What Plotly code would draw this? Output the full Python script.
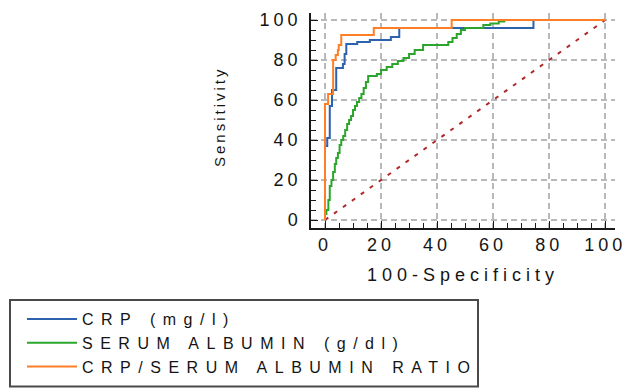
import plotly.graph_objects as go

# ---- data (ROC step vertices, 100-Specificity vs Sensitivity) ----
crp_x = [0, 0, 0.8, 1.7, 2.5, 4.0, 6.4, 7.0, 7.6, 11.5, 16.0, 23.5, 26.5, 74.4, 100]
crp_y = [0, 37, 41, 57, 65, 76, 78, 83, 88, 89, 90, 91.5, 96, 100, 100]

alb_x = [0, 0, 0.5, 1.2, 1.7, 2.3, 2.9, 3.5, 4.0, 4.6, 5.2, 5.8, 6.5, 7.2, 7.9, 8.6, 9.3,
         10.0, 10.7, 11.4, 12.2, 13.0, 13.8, 14.6, 15.4, 18.5, 20.0, 22.0, 24.0, 26.0,
         28.0, 30.0, 32.0, 35.0, 44.0, 45.5, 47.0, 48.5, 50.0, 56.5, 59.0, 62.0, 64.0, 100]
alb_y = [0, 3, 5, 10, 17, 20, 24, 28, 31, 33.5, 37.5, 40, 42, 45, 48, 50, 52,
         55, 57, 59, 61, 63, 66, 69, 72, 73, 75, 76.5, 78, 79.5,
         81, 83, 85, 87.5, 89, 91, 93, 95, 96, 97.5, 98.3, 99.2, 100, 100]

ratio_x = [0, 0, 1.1, 2.9, 3.8, 4.6, 4.9, 5.8, 17.4, 45.2, 100]
ratio_y = [0, 58, 63, 80, 82.5, 85, 87.5, 92.5, 96, 100, 100]

ref_x = [0, 100]
ref_y = [0, 100]

series_names = ["CRP (mg/l)", "SERUM ALBUMIN (g/dl)", "CRP/SERUM ALBUMIN RATIO"]
tick_vals = [0, 20, 40, 60, 80, 100]
tick_labels = ["0", "20", "40", "60", "80", "100"]
x_title = "100-Specificity"
y_title = "Sensitivity"

# ---- styling ----
FONT = "Liberation Sans, Arial, sans-serif"
TXT = "#141414"
FIG_W, FIG_H = 627, 389


def spaced(t, px):
    return f'<span style="letter-spacing:{px}px">{t}</span>'


fig = go.Figure()
fig.add_trace(go.Scatter(x=ref_x, y=ref_y, mode="lines", showlegend=False,
                         line=dict(color="#b02a2a", width=2, dash="4px,7px"),
                         hoverinfo="skip"))
colors = ["#2d62ad", "#2ca52c", "#ff7f27"]
for xs, ys, nm, c in zip([crp_x, alb_x, ratio_x], [crp_y, alb_y, ratio_y], series_names, colors):
    fig.add_trace(go.Scatter(x=xs, y=ys, mode="lines", name=spaced(nm, 7.5),
                             line=dict(color=c, width=2, shape="hv")))

L, R, T, B = 311, 12, 13, 161
W = FIG_W - L - R
H = FIG_H - T - B


def px_x(p):
    return (p - L) / W


def px_y(p):
    return (FIG_H - B - p) / H


axis_common = dict(
    showline=True, linecolor="#1a1a1a", linewidth=1.5,
    ticks="inside", ticklen=7, tickwidth=1.3, tickcolor="#1a1a1a",
    tickmode="array", tickvals=tick_vals,
    ticktext=[spaced(t, 4) for t in tick_labels],
    tickfont=dict(family=FONT, size=18, color=TXT),
    showgrid=True, gridcolor="#b8b8b8", gridwidth=2, griddash="6px,4px",
    zeroline=False,
    minor=dict(ticks="inside", ticklen=5, tickwidth=1.2, tickcolor="#1a1a1a",
               dtick=5, tick0=0, showgrid=False),
)

fig.update_xaxes(range=[-5, 103.5], **axis_common)
fig.update_yaxes(range=[-4, 103.5], ticklabelstandoff=4, **axis_common)

fig.add_annotation(text=spaced(x_title, 5), xref="paper", yref="paper",
                   x=px_x(463), y=px_y(275), xanchor="center", yanchor="middle",
                   showarrow=False, font=dict(family=FONT, size=18, color=TXT))
fig.add_annotation(text=spaced(y_title, 3), xref="paper", yref="paper",
                   x=px_x(219), y=px_y(117), xanchor="center", yanchor="middle",
                   textangle=-90, showarrow=False,
                   font=dict(family=FONT, size=15, color=TXT))

fig.add_shape(type="rect", xref="paper", yref="paper",
              x0=px_x(10), x1=px_x(478), y0=px_y(386.5), y1=px_y(300),
              line=dict(color="#4a4a4a", width=2), fillcolor="rgba(0,0,0,0)")

fig.update_layout(
    width=FIG_W, height=FIG_H,
    margin=dict(l=L, r=R, t=T, b=B, autoexpand=False),
    paper_bgcolor="white", plot_bgcolor="white",
    showlegend=True,
    legend=dict(xref="container", yref="container", x=22 / FIG_W, y=1 - 302 / FIG_H,
                xanchor="left", yanchor="top", bgcolor="rgba(0,0,0,0)", borderwidth=0,
                font=dict(family=FONT, size=16, color=TXT), itemwidth=50,
                tracegroupgap=0, traceorder="normal"),
)

fig.write_html("out.html",
               config={"displayModeBar": False},
               post_script="document.body.style.margin='0';"
                           "document.body.style.overflow='hidden';")
